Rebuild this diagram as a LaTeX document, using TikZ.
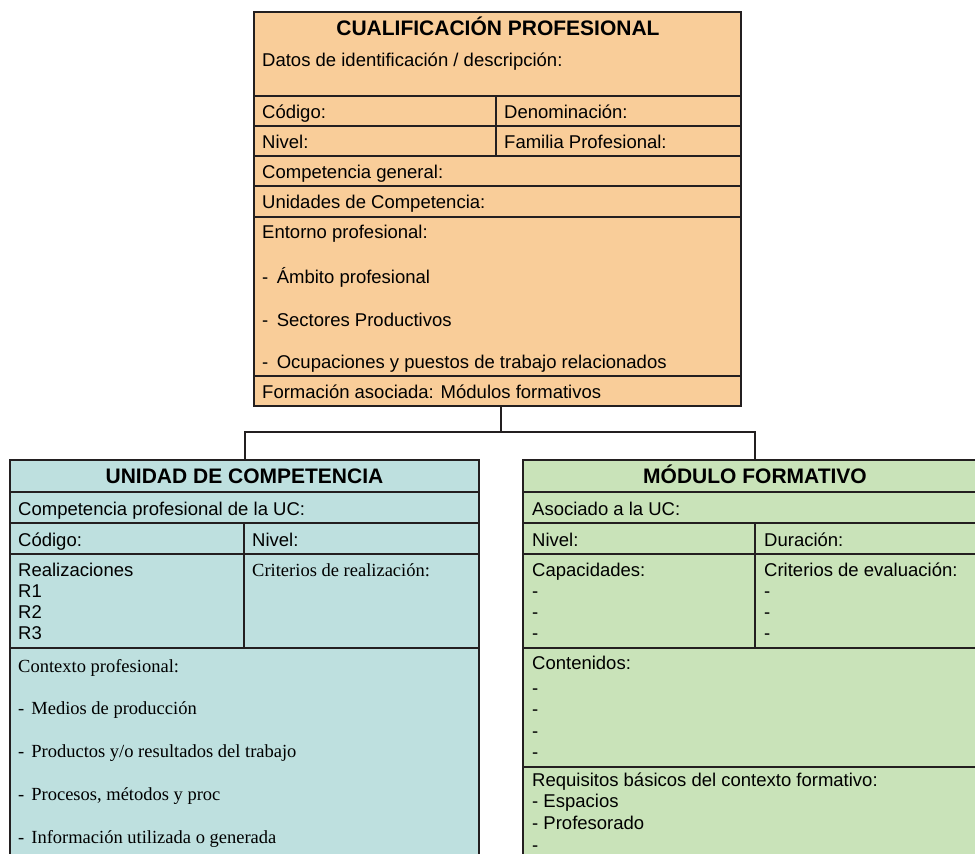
\documentclass[tikz,border=0pt]{standalone}
\usepackage{fontspec}
\setmainfont{Liberation Sans}
\newfontfamily\timesfont{Liberation Serif}
\definecolor{linecol}{HTML}{231F20}
\definecolor{cpfill}{HTML}{F9CD99}
\definecolor{ucfill}{HTML}{BEE0DF}
\definecolor{mffill}{HTML}{C9E3B9}

\begin{document}
\begin{tikzpicture}[x=1pt,y=-1pt,
  rule/.style={draw=linecol,line width=2pt},
  box/.style={rule,rectangle,inner sep=0pt,outer sep=0pt},
  txt/.style={anchor=base west,inner sep=0pt,font=\fontsize{18.5}{21}\selectfont},
  serif/.style={txt,font=\fontsize{18.5}{21}\selectfont\timesfont},
  head/.style={anchor=base,inner sep=0pt,font=\fontsize{21}{24}\selectfont\bfseries}]
\useasboundingbox (0,0) rectangle (975,854);
\clip (0,0) rectangle (975,854);
\node[box,fill=cpfill,minimum width=487pt,minimum height=394pt] (cp) at (497.5,209) {};
\node[box,fill=ucfill,minimum width=469pt,minimum height=420pt] (uc) at (244.5,670) {};
\node[box,fill=mffill,minimum width=464pt,minimum height=420pt] (mf) at (755,670) {};
\coordinate (fork) at (501,432);
\draw[rule] ([xshift=3.5pt]cp.south) -- (fork);
\draw[rule] (uc.north) |- (fork) -| (mf.north);
\foreach \y in {96,126,156,186,217,376} \draw[rule] (254,\y) -- (741,\y);
\draw[rule] (496,96) -- (496,156);
\foreach \y in {492,523,554,648} \draw[rule] (10,\y) -- (479,\y);
\draw[rule] (243.5,523) -- (243.5,648);
\foreach \y in {492,523,554,648,767} \draw[rule] (523,\y) -- (987,\y);
\draw[rule] (755,523) -- (755,648);
\node[head] (cptitle) at (498,35) {CUALIFICACIÓN PROFESIONAL};
\node[txt] (cpdatos) at (262,66) {Datos de identificación / descripción:};
\node[txt] (cpcod) at (262,118) {Código:};
\node[txt] (cpden) at (504,118) {Denominación:};
\node[txt] (cpniv) at (262,148) {Nivel:};
\node[txt] (cpfam) at (504,148) {Familia Profesional:};
\node[txt] (cpcomp) at (262,178) {Competencia general:};
\node[txt] (cpunid) at (262,208) {Unidades de Competencia:};
\node[txt] (cpent) at (262,238) {Entorno profesional:};
\node[txt] (cpamb) at (262,283) {-\hspace{8.5pt}Ámbito profesional};
\node[txt] (cpsec) at (262,326) {-\hspace{8.5pt}Sectores Productivos};
\node[txt] (cpocu) at (262,368) {-\hspace{8.5pt}Ocupaciones y puestos de trabajo relacionados};
\node[txt] (cpform) at (262,398) {Formación asociada: Módulos formativos};
\node[head] (uctitle) at (244.5,483) {UNIDAD DE COMPETENCIA};
\node[txt] (uccomp) at (18,515) {Competencia profesional de la UC:};
\node[txt] (uccod) at (18,546) {Código:};
\node[txt] (ucniv) at (252,546) {Nivel:};
\node[txt] (ucreal) at (18,576) {Realizaciones};
\node[txt] (ucra) at (18,597) {R1};
\node[txt] (ucrb) at (18,618) {R2};
\node[txt] (ucrc) at (18,639) {R3};
\node[serif] (uccrit) at (252,576) {Criterios de realización:};
\node[serif] (ucctx) at (18,672) {Contexto profesional:};
\node[serif] (ucmed) at (18,714) {-\hspace{7pt}Medios de producción};
\node[serif] (ucprod) at (18,757) {-\hspace{7pt}Productos y/o resultados del trabajo};
\node[serif] (ucproc) at (18,800) {-\hspace{7pt}Procesos, métodos y proc};
\node[serif] (ucinf) at (18,843) {-\hspace{7pt}Información utilizada o generada};
\node[head] (mftitle) at (755,483) {MÓDULO FORMATIVO};
\node[txt] (mfasoc) at (532,515) {Asociado a la UC:};
\node[txt] (mfniv) at (532,546) {Nivel:};
\node[txt] (mfdur) at (764,546) {Duración:};
\node[txt] (mfcap) at (532,576) {Capacidades:};
\node[txt] (mfcapa) at (532,597) {-};
\node[txt] (mfcapb) at (532,618) {-};
\node[txt] (mfcapc) at (532,639) {-};
\node[txt] (mfcrit) at (764,576) {Criterios de evaluación:};
\node[txt] (mfcrita) at (764,597) {-};
\node[txt] (mfcritb) at (764,618) {-};
\node[txt] (mfcritc) at (764,639) {-};
\node[txt] (mfcont) at (532,669) {Contenidos:};
\node[txt] (mfconta) at (532,694) {-};
\node[txt] (mfcontb) at (532,715) {-};
\node[txt] (mfcontc) at (532,737) {-};
\node[txt] (mfcontd) at (532,758) {-};
\node[txt] (mfreq) at (532,786) {Requisitos básicos del contexto formativo:};
\node[txt] (mfesp) at (532,807) {- Espacios};
\node[txt] (mfprof) at (532,829) {- Profesorado};
\node[txt] (mfreqd) at (532,851) {-};
\end{tikzpicture}
\end{document}
